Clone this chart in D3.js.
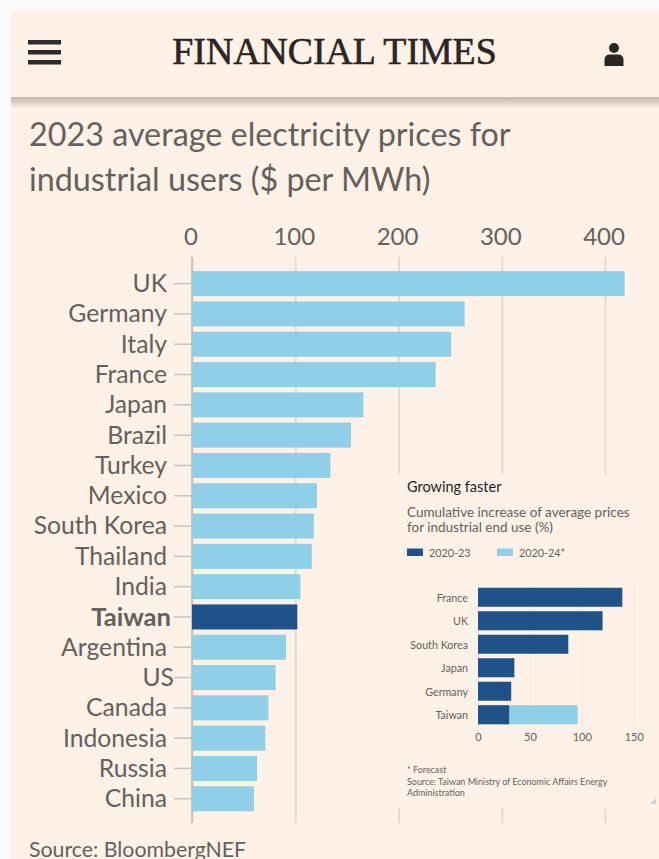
<!DOCTYPE html>
<html>
<head>
<meta charset="utf-8">
<script src="https://cdn.jsdelivr.net/npm/d3@7/dist/d3.min.js"></script>
<style>
  html, body { margin: 0; padding: 0; background: #fafafa; }
  svg { display: block; }
  text { font-family: Lato, "Open Sans", sans-serif; }
</style>
</head>
<body>
<svg id="chart" width="659" height="859"></svg>
<script>
// Industrial electricity prices, 2023 ($ per MWh)
const countries = ["UK","Germany","Italy","France","Japan","Brazil","Turkey","Mexico","South Korea","Thailand","India","Taiwan","Argentina","US","Canada","Indonesia","Russia","China"];
const prices = [419,264,251,236,166,154,134,121,118,116,105,102,91,81,74,71,63,60];
const priceTicks = [0,100,200,300,400];

// Cumulative price increases for the inset (%)
const insetCountries = ["France","UK","South Korea","Japan","Germany","Taiwan"];
const increase2023 = [139,120,87,35,32,30];
const increase2024 = [null,null,null,null,null,96];
const insetTicks = [0,50,100,150];
const insetLegend = ["2020-23","2020-24*"];

const PAPER = "#fef1e7", GRID = "#e3dbd6", INK = "#66605c", DARK = "#1f5288", LIGHT = "#90cfe8";

const svg = d3.select("#chart");
const defs = svg.append("defs");
const shadow = defs.append("linearGradient").attr("id","hdrShadow").attr("x1",0).attr("x2",0).attr("y1",0).attr("y2",1);
shadow.append("stop").attr("offset",0).attr("stop-color","#c4b9af");
shadow.append("stop").attr("offset",1).attr("stop-color",PAPER);

// Page card and masthead
svg.append("rect").attr("x",11).attr("y",11).attr("width",648).attr("height",848).attr("fill",PAPER);
svg.append("rect").attr("x",11).attr("y",97).attr("width",648).attr("height",12).attr("fill","url(#hdrShadow)");

const burger = svg.append("g").attr("fill","#2f2b29");
[0,1,2].forEach(i => burger.append("rect").attr("x",28).attr("y",40 + i*10).attr("width",33).attr("height",4.5));

svg.append("text").attr("x",334.5).attr("y",64).attr("text-anchor","middle")
  .attr("fill","#2a2624").attr("stroke","#2a2624").attr("stroke-width",0.6)
  .style("font-family","'Liberation Serif', serif").style("font-size","37.8px")
  .text("FINANCIAL TIMES");

const person = svg.append("g").attr("fill","#2a2624");
person.append("circle").attr("cx",614).attr("cy",48).attr("r",5);
person.append("path").attr("d","M604.5 66 V60 Q604.5 54.5 610 54.5 H618 Q623.5 54.5 623.5 60 V66 Z");

// Heading
svg.append("text").attr("x",29).attr("y",146).attr("fill",INK).style("font-size","32.3px").text("2023 average electricity prices for");
svg.append("text").attr("x",29).attr("y",191).attr("fill",INK).style("font-size","32.3px").text("industrial users ($ per MWh)");

// Main chart
const x = d3.scaleLinear().domain([0,400]).range([192,605]);
const y = d3.scaleBand().domain(countries).range([268.5, 268.5 + 18*30.3]).paddingInner(0.175).paddingOuter(0.0875);
const gridBottom = 823;

const xAxis = svg.append("g").attr("transform","translate(0,257)")
  .call(d3.axisBottom(x).tickValues(priceTicks).tickSize(gridBottom-257).tickPadding(0));
xAxis.select(".domain").remove();
xAxis.selectAll("line").attr("stroke",GRID).attr("stroke-width",2);
xAxis.selectAll("text").remove();

const xLabels = svg.append("g").attr("transform","translate(-1.5,245)")
  .call(d3.axisTop(x).tickValues(priceTicks).tickSize(0).tickPadding(0));
xLabels.select(".domain").remove();
xLabels.selectAll("text").attr("fill",INK).attr("y",0).attr("dy",0).style("font-size","24px").style("font-family","Lato");

svg.append("line").attr("x1",192).attr("x2",192).attr("y1",257).attr("y2",gridBottom).attr("stroke","#c9c2bd").attr("stroke-width",2);

svg.append("g").selectAll("rect").data(countries).join("rect")
  .attr("x",x(0)).attr("y",d => y(d)).attr("height",y.bandwidth())
  .attr("width",(d,i) => x(prices[i]) - x(0))
  .attr("fill",d => d === "Taiwan" ? DARK : LIGHT);

const yAxis = svg.append("g").attr("transform","translate(192,0)")
  .call(d3.axisLeft(y).tickSize(18).tickPadding(7));
yAxis.select(".domain").remove();
yAxis.selectAll("line").attr("stroke","#c9c2bd").attr("stroke-width",1.5);
yAxis.selectAll("text").attr("fill",INK).style("font-family","Lato")
  .style("font-size",d => d === "Taiwan" ? "25.6px" : "24.7px")
  .attr("font-weight",d => d === "Taiwan" ? 700 : 400)
  .attr("dy","0.34em")
  .attr("x",d => d === "US" ? -18 : d === "Taiwan" ? -21 : -25);

// Inset panel
svg.append("rect").attr("x",393).attr("y",474).attr("width",266).attr("height",334).attr("fill",PAPER);
svg.append("path").attr("d","M650 804 L656 798 V804 Z").attr("fill","#d8d2ce");

svg.append("text").attr("x",407).attr("y",492).attr("fill","#221e1c").style("font-size","14.5px").text("Growing faster");
svg.append("text").attr("x",407).attr("y",517).attr("fill",INK).style("font-size","13.5px").text("Cumulative increase of average prices");
svg.append("text").attr("x",407).attr("y",532).attr("fill",INK).style("font-size","13.5px").text("for industrial end use (%)");

const legendX = d3.scalePoint().domain(insetLegend).range([407,497]);
const legend = svg.append("g").selectAll("g").data(insetLegend).join("g")
  .attr("transform",d => `translate(${legendX(d)},548.5)`);
legend.append("rect").attr("width",16).attr("height",7.5).attr("fill",(d,i) => i ? LIGHT : DARK);
legend.append("text").attr("x",22).attr("y",8).attr("fill",INK).style("font-size","10.8px").text(d => d);

const ix = d3.scaleLinear().domain([0,150]).range([478,633.7]);
const iy = d3.scaleBand().domain(insetCountries).range([585.5, 585.5 + 6*23.5]).paddingInner(0.19).paddingOuter(0.095);

const ixAxis = svg.append("g").attr("transform","translate(0,583)")
  .call(d3.axisBottom(ix).tickValues(insetTicks).tickSize(143).tickPadding(7));
ixAxis.select(".domain").remove();
ixAxis.selectAll("line").attr("stroke","#f0e6df").attr("stroke-width",1);
ixAxis.selectAll("text").attr("fill",INK).style("font-size","11px").style("font-family","Lato");

svg.append("g").selectAll("rect").data(insetCountries).join("rect")
  .attr("x",ix(0)).attr("y",d => iy(d)).attr("height",iy.bandwidth())
  .attr("width",(d,i) => increase2024[i] === null ? 0 : ix(increase2024[i]) - ix(0))
  .attr("fill",LIGHT);
svg.append("g").selectAll("rect").data(insetCountries).join("rect")
  .attr("x",ix(0)).attr("y",d => iy(d)).attr("height",iy.bandwidth())
  .attr("width",(d,i) => ix(increase2023[i]) - ix(0))
  .attr("fill",DARK);

const iyAxis = svg.append("g").attr("transform","translate(478,0)")
  .call(d3.axisLeft(iy).tickSize(7).tickPadding(2));
iyAxis.select(".domain").remove();
iyAxis.selectAll("line").attr("stroke","#ece3dd");
iyAxis.selectAll("text").attr("fill",INK).style("font-size","10.7px").style("font-family","Lato").attr("x",-10).attr("dy","0.42em");

// Inset notes
["* Forecast","Source: Taiwan Ministry of Economic Affairs Energy","Administration"].forEach((line,i) => {
  svg.append("text").attr("x",407).attr("y",773 + i*11.5).attr("fill",INK).style("font-size","8.95px").text(line);
});

// Main source line
svg.append("text").attr("x",29).attr("y",857).attr("fill",INK).style("font-size","21.3px").text("Source: BloombergNEF");
</script>
</body>
</html>
